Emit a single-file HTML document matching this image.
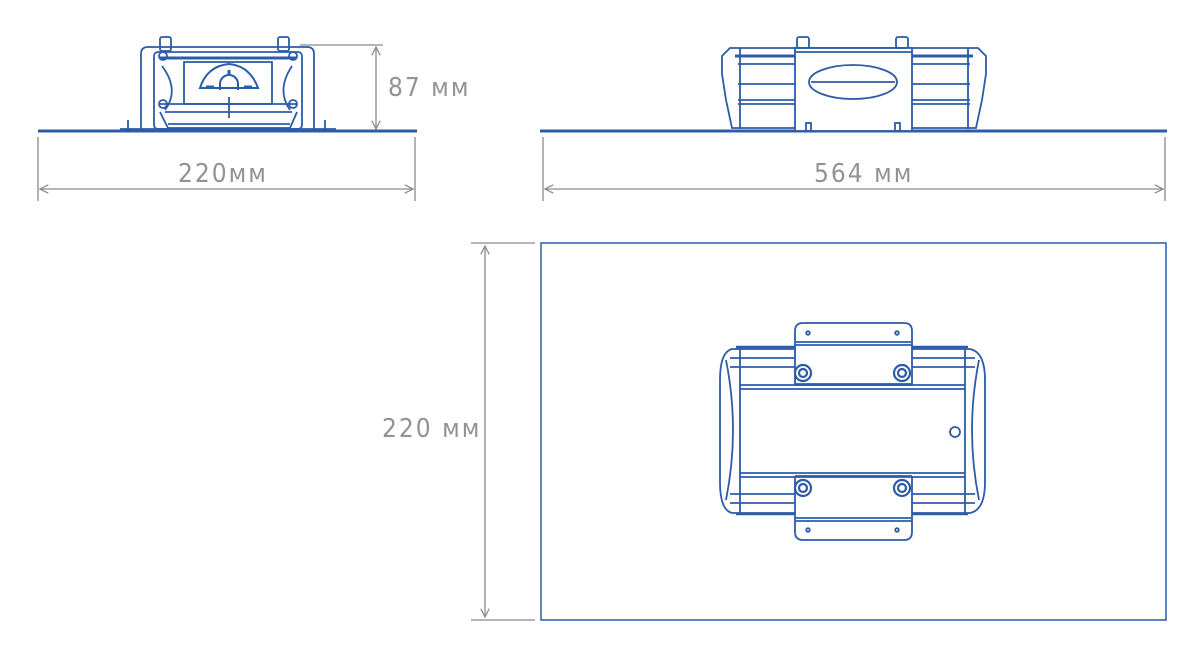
<!DOCTYPE html>
<html><head><meta charset="utf-8"><style>
html,body{margin:0;padding:0;background:#fff;}
svg{display:block}
text{font-family:"DejaVu Sans Condensed","Liberation Sans Narrow","Liberation Sans",sans-serif;fill:#939393;letter-spacing:2px;}
</style></head><body>
<svg width="1200" height="653" viewBox="0 0 1200 653" xmlns="http://www.w3.org/2000/svg">
<defs>
<marker id="a" viewBox="0 0 10 10" refX="9" refY="5" markerWidth="8" markerHeight="8" orient="auto-start-reverse"><path d="M1,1 L9,5 L1,9" fill="none" stroke="#8a8a8a" stroke-width="1.2"/></marker>
</defs>
<g stroke="#8a8a8a" stroke-width="1.3" fill="none">
<line x1="38" y1="137" x2="38" y2="201"/><line x1="415" y1="137" x2="415" y2="201"/>
<line x1="40" y1="189" x2="413" y2="189" marker-start="url(#a)" marker-end="url(#a)"/>
<line x1="300" y1="45" x2="383" y2="45"/>
<line x1="376" y1="47" x2="376" y2="129" marker-start="url(#a)" marker-end="url(#a)"/>
<line x1="543" y1="137" x2="543" y2="201"/><line x1="1165" y1="137" x2="1165" y2="201"/>
<line x1="545" y1="189" x2="1163" y2="189" marker-start="url(#a)" marker-end="url(#a)"/>
<line x1="471" y1="243" x2="535" y2="243"/><line x1="471" y1="620" x2="535" y2="620"/>
<line x1="485" y1="246" x2="485" y2="617" marker-start="url(#a)" marker-end="url(#a)"/>
</g>
<text x="178" y="182" font-size="26">220мм</text>
<text x="388" y="96" font-size="26">87 мм</text>
<text x="814" y="182" font-size="26">564 мм</text>
<text x="382" y="437" font-size="26">220 мм</text>

<g stroke="#2c5ba8" fill="none" stroke-width="1.8">
<line x1="38" y1="131" x2="417" y2="131" stroke-width="3"/>
<path d="M141,129 V54 Q141,47 148,47 H307 Q314,47 314,54 V129"/>
<rect x="154" y="52" width="148" height="77" rx="4"/>
<line x1="160" y1="58" x2="296" y2="58" stroke-width="3"/>
<path d="M162,66 Q180,90 165,110 M292,66 Q276,90 290,110"/>
<rect x="184" y="62" width="88" height="42"/>
<path d="M200,88 Q207,66 229,64 Q250,66 258,88 Z" stroke-width="2"/>
<path d="M220,90 V84 A9,9 0 0 1 238,84 V90" stroke-width="2"/>
<line x1="229" y1="70" x2="229" y2="74" stroke-width="3"/>
<line x1="206" y1="87" x2="214" y2="87" stroke-width="3"/><line x1="244" y1="87" x2="252" y2="87" stroke-width="3"/>
<line x1="160" y1="104" x2="296" y2="104"/>
<line x1="165" y1="112" x2="292" y2="112"/>
<line x1="229" y1="97" x2="229" y2="118"/>
<path d="M160,112 L168,128 H290 L297,112"/>
<line x1="168" y1="124" x2="290" y2="124"/>
<circle cx="163" cy="56" r="4"/><circle cx="163" cy="104" r="4"/>
<circle cx="293" cy="56" r="4"/><circle cx="293" cy="104" r="4"/>
<rect x="160" y="37" width="11" height="14" rx="2"/><rect x="278" y="37" width="11" height="14" rx="2"/>
<line x1="128" y1="120" x2="128" y2="131"/><line x1="325" y1="120" x2="325" y2="131"/>
<line x1="120" y1="129" x2="336" y2="129"/>

<line x1="540" y1="131" x2="1167" y2="131" stroke-width="3"/>
<path d="M730,48 H978 L986,56 V74 L982,100 L976,128 H732 L726,100 L722,74 V56 Z"/>
<line x1="740" y1="48" x2="740" y2="129"/><line x1="968" y1="48" x2="968" y2="129"/>
<line x1="735" y1="56" x2="973" y2="56" stroke-width="3"/>
<line x1="738" y1="64" x2="970" y2="64"/>
<line x1="738" y1="84" x2="970" y2="84"/>
<line x1="738" y1="100" x2="970" y2="100"/>
<line x1="738" y1="104" x2="970" y2="104"/>
<rect x="795" y="48" width="117" height="83" fill="#fff"/>
<line x1="795" y1="52" x2="912" y2="52"/>
<ellipse cx="853" cy="82" rx="44" ry="17"/>
<line x1="811" y1="82" x2="895" y2="82"/>
<rect x="797" y="37" width="12" height="11" rx="2"/><rect x="896" y="37" width="12" height="11" rx="2"/>
<rect x="806" y="123" width="5" height="8"/><rect x="895" y="123" width="5" height="8"/>

<rect x="541" y="243" width="625" height="377" stroke-width="1.5"/>
<path d="M732,349 H970 Q985,352 985,380 V482 Q985,510 970,513 H732 Q720,510 720,482 V380 Q720,352 732,349 Z"/>
<path d="M726,360 Q740,430 726,500 M979,360 Q965,430 979,500"/>
<line x1="740" y1="349" x2="740" y2="513"/><line x1="965" y1="349" x2="965" y2="513"/>
<line x1="736" y1="347" x2="968" y2="347" stroke-width="2.5"/>
<line x1="736" y1="514" x2="968" y2="514" stroke-width="2.5"/>
<line x1="730" y1="358" x2="975" y2="358"/><line x1="730" y1="367" x2="975" y2="367"/>
<line x1="740" y1="385" x2="965" y2="385"/><line x1="740" y1="389" x2="965" y2="389"/>
<line x1="740" y1="473" x2="965" y2="473"/><line x1="740" y1="477" x2="965" y2="477"/>
<line x1="730" y1="494" x2="975" y2="494"/><line x1="730" y1="503" x2="975" y2="503"/>
<path d="M795,384 V331 Q795,323 803,323 H904 Q912,323 912,331 V384 Z" fill="#fff"/>
<line x1="795" y1="342" x2="912" y2="342"/><line x1="795" y1="345" x2="912" y2="345"/>
<path d="M795,477 V532 Q795,540 803,540 H904 Q912,540 912,532 V477 Z" fill="#fff"/>
<line x1="795" y1="518" x2="912" y2="518"/><line x1="795" y1="521" x2="912" y2="521"/>
<line x1="795" y1="385" x2="912" y2="385"/><line x1="795" y1="476" x2="912" y2="476"/>
<g stroke-width="2.2">
<circle cx="803" cy="373" r="8"/><circle cx="803" cy="373" r="4"/>
<circle cx="902" cy="373" r="8"/><circle cx="902" cy="373" r="4"/>
<circle cx="803" cy="488" r="8"/><circle cx="803" cy="488" r="4"/>
<circle cx="902" cy="488" r="8"/><circle cx="902" cy="488" r="4"/>
</g>
<circle cx="808" cy="333" r="1.8"/><circle cx="897" cy="333" r="1.8"/>
<circle cx="808" cy="530" r="1.8"/><circle cx="897" cy="530" r="1.8"/>
<circle cx="955" cy="432" r="5"/>
</g>
</svg>
</body></html>
